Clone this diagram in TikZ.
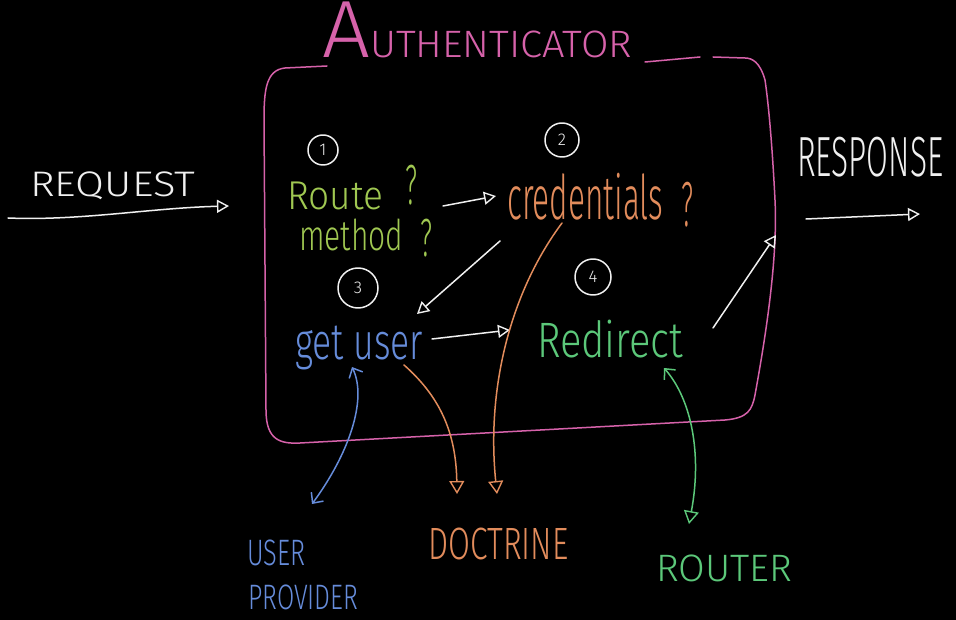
\documentclass[tikz,border=0pt]{standalone}
\usepackage{fontspec}
\setmainfont{Fira Sans Light}
\usepackage{graphicx}
\usetikzlibrary{arrows.meta}
\definecolor{pinkc}{RGB}{214,98,170}
\definecolor{limec}{RGB}{160,200,82}
\definecolor{orangec}{RGB}{226,140,92}
\definecolor{bluec}{RGB}{102,140,218}
\definecolor{greenc}{RGB}{92,200,122}
\definecolor{whitec}{RGB}{240,240,240}
\newcommand{\fitbox}[3]{\resizebox*{#1pt}{#2pt}{#3}}
\tikzset{
  pen/.style={line width=1.5pt, line cap=round, line join=round},
  txt/.style={inner sep=0pt, anchor=north west},
  num/.style={circle, draw=whitec, pen, text=whitec, inner sep=0pt, font=\fontsize{17}{17}\selectfont},
  warr/.style={pen, draw=whitec, -{Triangle[open, length=12pt, width=13pt, line width=1.4pt]}},
  oarr/.style={pen, draw=orangec, -{Triangle[open, length=13pt, width=15pt, line width=1.4pt]}},
}
\begin{document}
\begin{tikzpicture}[x=1pt, y=-1pt]
\fill[black] (0,0) rectangle (956,620);
\useasboundingbox (0,0) rectangle (956,620);

% title
\node[txt, text=pinkc] (title) at (322,2) {\fitbox{310}{56}{A\scalebox{0.47}{UTHENTICATOR}}};

% box
\draw[pen, draw=pinkc] (327,66) -- (285,68) .. controls (266,70) and (264,90) .. (264,120)
  -- (266,410) .. controls (266,440) and (280,444) .. (300,443)
  -- (725,420) .. controls (748,418) and (752,410) .. (755,395)
  .. controls (765,340) and (778,260) .. (775,200)
  .. controls (772,140) and (768,100) .. (765,80)
  .. controls (760,62) and (752,58) .. (745,58) -- (713,57);
\draw[pen, draw=pinkc] (700,57) -- (645,62);

% request / response
\node[txt, text=whitec] (req) at (30,172) {\fitbox{165}{28}{REQUEST}};
\node[txt, text=whitec] (resp) at (797,137) {\fitbox{146}{40}{RESPONSE}};
\coordinate (reqL) at (8,218);
\coordinate (reqR) at (229,206);
\draw[warr] (reqL) .. controls (80,221) and (150,208) .. (reqR);
\coordinate (respL) at (806,219);
\coordinate (respR) at (920,214);
\draw[warr] (respL) -- (respR);

% circled numbers
\node[num, minimum size=30pt] (n1) at (323,150) {1};
\node[num, minimum size=34pt] (n2) at (562,140) {2};
\node[num, minimum size=40pt] (n3) at (358,288) {3};
\node[num, minimum size=36pt] (n4) at (593,277) {4};

% step texts
\node[txt, text=limec] (route) at (287,182) {\fitbox{96}{28}{Route}};
\node[txt, text=limec] (q1) at (405,165) {\fitbox{12}{40}{?}};
\node[txt, text=limec] (method) at (299,219) {\fitbox{104}{32}{method}};
\node[txt, text=limec] (q2) at (420,219) {\fitbox{12}{38}{?}};
\node[txt, text=orangec] (cred) at (507,173) {\fitbox{156}{47}{credentials}};
\node[txt, text=orangec] (q3) at (681,182) {\fitbox{12}{45}{?}};
\node[txt, text=bluec] (getuser) at (295,326) {\fitbox{128}{44}{get user}};
\node[txt, text=greenc] (redirect) at (537,320) {\fitbox{146}{38}{Redirect}};

% flow arrows
\coordinate (a1s) at (443,206);
\coordinate (a1e) at (496,196);
\draw[warr] (a1s) -- (a1e);
\coordinate (a2s) at (500,241);
\coordinate (a2e) at (417,314);
\draw[warr] (a2s) -- (a2e);
\coordinate (a3s) at (432,339);
\coordinate (a3e) at (510,330);
\draw[warr] (a3s) -- (a3e);
\coordinate (a4s) at (713,328);
\coordinate (a4e) at (776,235);
\draw[warr] (a4s) -- (a4e);

% external labels
\node[txt, text=bluec] (user) at (247,540) {\fitbox{58}{26}{USER}};
\node[txt, text=bluec] (provider) at (248,585) {\fitbox{110}{25}{PROVIDER}};
\node[txt, text=orangec] (doctrine) at (428,528) {\fitbox{140}{32}{DOCTRINE}};
\node[txt, text=greenc] (router) at (656,555) {\fitbox{136}{27}{ROUTER}};

% external connectors
\coordinate (b1) at (352,367);
\coordinate (b2) at (312,504);
\draw[pen, draw=bluec, {Straight Barb[length=8pt, width=15pt]}-{Straight Barb[length=8pt, width=15pt]}]
  (b1) .. controls (368,400) and (348,455) .. (b2);
\coordinate (o1s) at (404,365);
\coordinate (o1e) at (457,494);
\draw[oarr] (o1s) .. controls (438,395) and (456,430) .. (o1e);
\coordinate (o2s) at (562,223);
\coordinate (o2e) at (497,494);
\draw[oarr] (o2s) .. controls (512,290) and (486,385) .. (o2e);
\coordinate (g1) at (664,368);
\coordinate (g2) at (689,524);
\draw[pen, draw=greenc, {Straight Barb[length=8pt, width=15pt]}-{Triangle[open, length=13pt, width=15pt, line width=1.4pt]}]
  (g1) .. controls (692,400) and (702,455) .. (g2);
\end{tikzpicture}
\end{document}
